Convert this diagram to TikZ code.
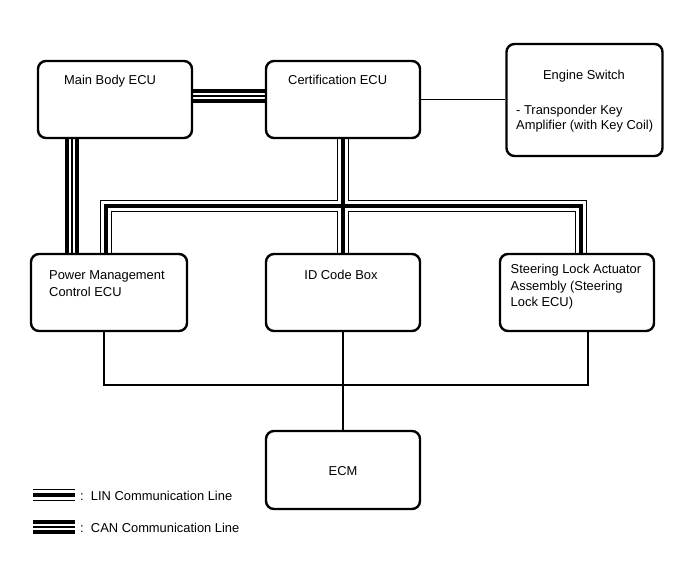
\documentclass[tikz,border=0pt]{standalone}
\usepackage{fontspec}
\setmainfont{Liberation Sans}
\usetikzlibrary{calc}
\pgfdeclarelayer{bg}
\pgfsetlayers{bg,main}
\tikzset{
  box/.style={draw, line width=2.4pt, rounded corners=8pt, fill=white, minimum width=154pt, minimum height=77pt, inner sep=0pt},
  txt/.style={anchor=base west, inner sep=0pt, font=\fontsize{12.9}{15.5}\selectfont},
  thin/.style={draw, line width=1.2pt, line join=miter},
  busa/.style={line width=12.5pt, black, line join=miter},
  busb/.style={line width=10.3pt, white, line join=miter},
  busc/.style={line width=4pt, black, line join=miter},
  cana/.style={line width=14pt, black, line join=miter},
  canb/.style={line width=6pt, white, line join=miter},
  canc/.style={line width=1.5pt, black, line join=miter},
}
\begin{document}
\begin{tikzpicture}[x=1pt, y=-1pt]
\useasboundingbox (0,0) rectangle (688,560);
% boxes
\node[box] (mainbody) at (115,99.5) {};
\node[box] (cert) at (343,99.5) {};
\node[box, minimum width=156pt, minimum height=112pt] (engine) at (584.5,100) {};
\node[box, minimum width=156pt] (pmc) at (109,292.5) {};
\node[box] (idbox) at (343,292.5) {};
\node[box, minimum width=154pt] (steer) at (577,292.5) {};
\node[box, minimum height=78pt] (ecm) at (343,470) {};
% texts
\node[txt] (t1) at (64,84) {Main Body ECU};
\node[txt] (t2) at (288,84) {Certification ECU};
\node[txt, anchor=base] (t3) at (584,79.5) {Engine Switch};
\node[txt] (t4) at (516,114.5) {- Transponder Key};
\node[txt] (t5) at (516,129.5) {Amplifier (with Key Coil)};
\node[txt] (t6) at (49,279.5) {Power Management};
\node[txt] (t7) at (49,296.5) {Control ECU};
\node[txt, anchor=base] (t8) at (341,279) {ID Code Box};
\node[txt] (t9) at (510.5,273.5) {Steering Lock Actuator};
\node[txt] (t10) at (510.5,290) {Assembly (Steering};
\node[txt] (t11) at (510.5,306) {Lock ECU)};
\node[txt, anchor=base] (t12) at (343,475) {ECM};
% coordinates
\coordinate (jl) at (106,206);
\coordinate (jr) at (581,206);
\coordinate (bl) at (104,385);
\coordinate (br) at (588,385);
\coordinate (mb1) at ([yshift=3.5pt]mainbody.east);
\coordinate (mb2) at ([xshift=-43pt]mainbody.south);
\coordinate (lg1a) at (33,495);
\coordinate (lg1b) at (75,495);
\coordinate (lg2a) at (33,527);
\coordinate (lg2b) at (75,527);
\begin{pgfonlayer}{bg}
% Main Body links
\foreach \s in {cana,canb,canc}{
  \draw[\s] (mb1) -- (cert.west |- mb1);
  \draw[\s] (mb2) -- (pmc.north -| mb2);
}
% Certification ECU bus
\foreach \s in {busa,busb,busc}{
  \draw[\s] (pmc.north -| jl) -- (jl) -- (jr) -- (steer.north -| jr);
  \draw[\s] (cert.south) -- (idbox.north);
}
\draw[thin] (cert.east) -- (engine.west |- cert.east);
\draw[thin] (pmc.south -| bl) -- (bl) -- (br) -- (steer.south -| br);
\draw[thin] (idbox.south) -- (ecm.north);
\end{pgfonlayer}
% legend
\foreach \s in {busa,busb,busc}{\draw[\s] (lg1a) -- (lg1b);}
\foreach \s in {cana,canb,canc}{\draw[\s] (lg2a) -- (lg2b);}
\node[txt, anchor=west] (l1) at (80,496) {:\ \ LIN Communication Line};
\node[txt, anchor=west] (l2) at (80,528) {:\ \ CAN Communication Line};
\end{tikzpicture}
\end{document}
